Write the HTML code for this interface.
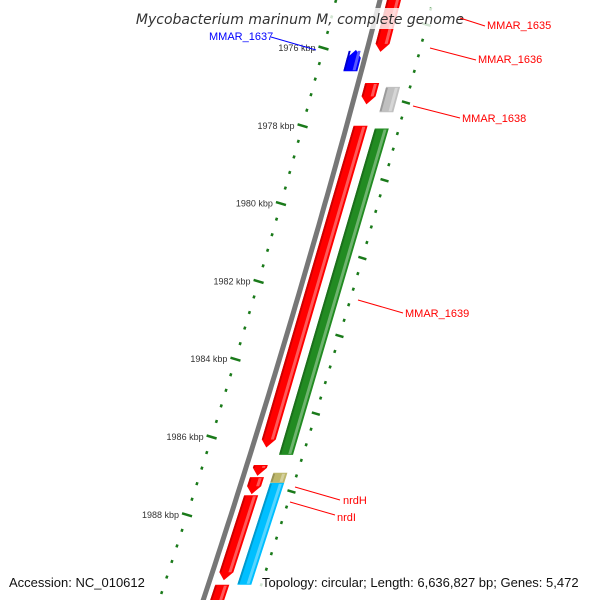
<!DOCTYPE html>
<html><head><meta charset="utf-8"><style>
body{margin:0;background:#fff}
svg{display:block;font-family:"Liberation Sans","DejaVu Sans",sans-serif}
</style></head><body>
<svg id="c" width="600" height="600" viewBox="0 0 600 600">
<g id="ticks"></g>
<g id="bb"></g>
<g id="feats"></g>
<g id="labs"></g>
</svg>
<script>
const majorTicks=[1976,1978,1980,1982,1984,1986,1988];
const featNames=["MMAR_1635","MMAR_1637","MMAR_1636","MMAR_1638","MMAR_1639","MMAR_1639b","small-red-1","small-red-2","red-long-2","red-bottom","nrdH","nrdI"];
const featStart=[1974.5,1976.05,1976.9,1977.0,1978.0,1978.07,1986.72,1987.03,1987.5,1989.8,1986.92,1987.18];
const featEnd=[1976.1,1976.6,1977.45,1977.65,1986.27,1986.46,1987.0,1987.47,1989.68,1990.6,1987.18,1989.8];
const featStrand=[1,-1,1,0,1,0,1,1,1,1,0,0];
const featLane=[14,-11,14,36,14,36,14,14,14,14,36,36];
const featColor=["#ff0000","#0000ff","#ff0000","#c0c0c0","#ff0000","#228b22","#ff0000","#ff0000","#ff0000","#ff0000","#bdb76b","#00bfff"];
const NS="http://www.w3.org/2000/svg";
function yOf(k){return 48+(k-1976)*38.9;}
function xOf(y){return 380-0.258*y-6.1e-5*y*y;}
function el(t,a,p){const e=document.createElementNS(NS,t);for(const k in a)e.setAttribute(k,a[k]);p.appendChild(e);return e;}
const bb=document.getElementById('bb');
let pts=[];for(let y=-5;y<=605;y+=10)pts.push((xOf(y)).toFixed(1)+","+y);
const b1=el('polyline',{points:pts.join(' '),fill:'none',stroke:'#777',"stroke-width":5},bb);


// ticks
const tg=document.getElementById('ticks');
for(let k=1974.8;k<=1990.6;k+=0.4){
  const kk=Math.round(k*10)/10;const y=yOf(kk);
  const major=majorTicks.some(m=>Math.abs(m-kk)<0.01);
  const x=xOf(y)-44;
  const t=el('line',{x1:x-(major?5:1.2),y1:y-(major?1.5:0.4),x2:x+(major?5:1.2),y2:y+(major?1.5:0.4),stroke:'#1a7a1a',"stroke-width":major?2.5:3},tg);
  
  
  if(major){const tx=el('text',{x:x-8,y:y+3,"font-size":9,fill:'#333',"text-anchor":'end'},tg);tx.textContent=kk+" kbp";
  
  }
  const k2=kk-0.6;const y2=yOf(k2);const xr=xOf(y2)+53;
  const r=el('line',{x1:xr-(major?4:1.2),y1:y2-(major?1.2:0.4),x2:xr+(major?4:1.2),y2:y2+(major?1.2:0.4),stroke:'#1a7a1a',"stroke-width":major?2.5:3},tg);
  
  
}
// features
const fg=document.getElementById('feats');
function shade(c,f){const n=parseInt(c.slice(1),16);let r=n>>16,g=(n>>8)&255,b=n&255;
 if(f<0){r*=1+f;g*=1+f;b*=1+f}else{r+= (255-r)*f;g+=(255-g)*f;b+=(255-b)*f}
 return "rgb("+[r,g,b].map(v=>Math.round(v)).join(",")+")";}
featStart.forEach((s,i)=>{
  const y1=yOf(s),y2=yOf(featEnd[i]),off=featLane[i],w=14,st=featStrand[i];
  const L=(y,o)=>[xOf(y)+o,y];
  const tip=8;
  let poly;
  if(st===1){const yb=y2-tip;poly=[L(y1,off-w/2),L(y1,off+w/2),L(yb,off+w/2),L(y2,off),L(yb,off-w/2)];}
  else if(st===-1){const yb=y1+tip;poly=[L(y1,off),L(yb,off+w/2),L(y2,off+w/2),L(y2,off-w/2),L(yb,off-w/2)];}
  else poly=[L(y1,off-w/2),L(y1,off+w/2),L(y2,off+w/2),L(y2,off-w/2)];
  const p=el('polygon',{points:poly.map(q=>q[0].toFixed(1)+","+q[1].toFixed(1)).join(' '),fill:featColor[i]},fg);
  
  
  const hl=el('polygon',{points:[L(y1+1,off+w/2-5),L(y1+1,off+w/2-2),L(y2-(st===1?tip:1),off+w/2-2),L(y2-(st===1?tip:1),off+w/2-5)].map(q=>q[0].toFixed(1)+","+q[1].toFixed(1)).join(' '),fill:shade(featColor[i],0.35)},fg);
  
  
  const dk=el('polygon',{points:[L(y1+1,off-w/2),L(y1+1,off-w/2+2),L(y2-(st===1?tip:1),off-w/2+2),L(y2-(st===1?tip:1),off-w/2)].map(q=>q[0].toFixed(1)+","+q[1].toFixed(1)).join(' '),fill:shade(featColor[i],-0.2)},fg);
  
  
});
</script>
<svg width="600" height="600" style="position:absolute;left:0;top:0">
<rect x="138" y="8" width="324" height="21" fill="#fff" fill-opacity="0.8"/>
<text x="300" y="24" font-size="14" font-style="italic" fill="#333" text-anchor="middle" font-family="DejaVu Sans,sans-serif">Mycobacterium marinum M, complete genome</text>
<g font-size="11">
<line x1="460" y1="18" x2="485" y2="26" stroke="red"/>
<text x="487" y="29" fill="red">MMAR_1635</text>
<line x1="430" y1="48" x2="476" y2="60" stroke="red"/>
<text x="478" y="63" fill="red">MMAR_1636</text>
<line x1="271" y1="37" x2="316" y2="50" stroke="blue"/>
<text x="209" y="40" fill="blue">MMAR_1637</text>
<line x1="413" y1="106" x2="460" y2="118" stroke="red"/>
<text x="462" y="122" fill="red">MMAR_1638</text>
<line x1="358" y1="300" x2="403" y2="313" stroke="red"/>
<text x="405" y="317" fill="red">MMAR_1639</text>
<line x1="295" y1="487" x2="340" y2="500" stroke="red"/>
<text x="343" y="504" fill="red">nrdH</text>
<line x1="290" y1="502" x2="335" y2="515" stroke="red"/>
<text x="337" y="521" fill="red">nrdI</text>
</g>
<rect x="4" y="573" width="142" height="20" fill="#fff" fill-opacity="0.8"/>
<text x="9" y="587" font-size="13" fill="#111">Accession: NC_010612</text>
<rect x="258" y="573" width="338" height="20" fill="#fff" fill-opacity="0.8"/>
<text x="262" y="587" font-size="13" fill="#111">Topology: circular; Length: 6,636,827 bp; Genes: 5,472</text>
</svg>
</body></html>
